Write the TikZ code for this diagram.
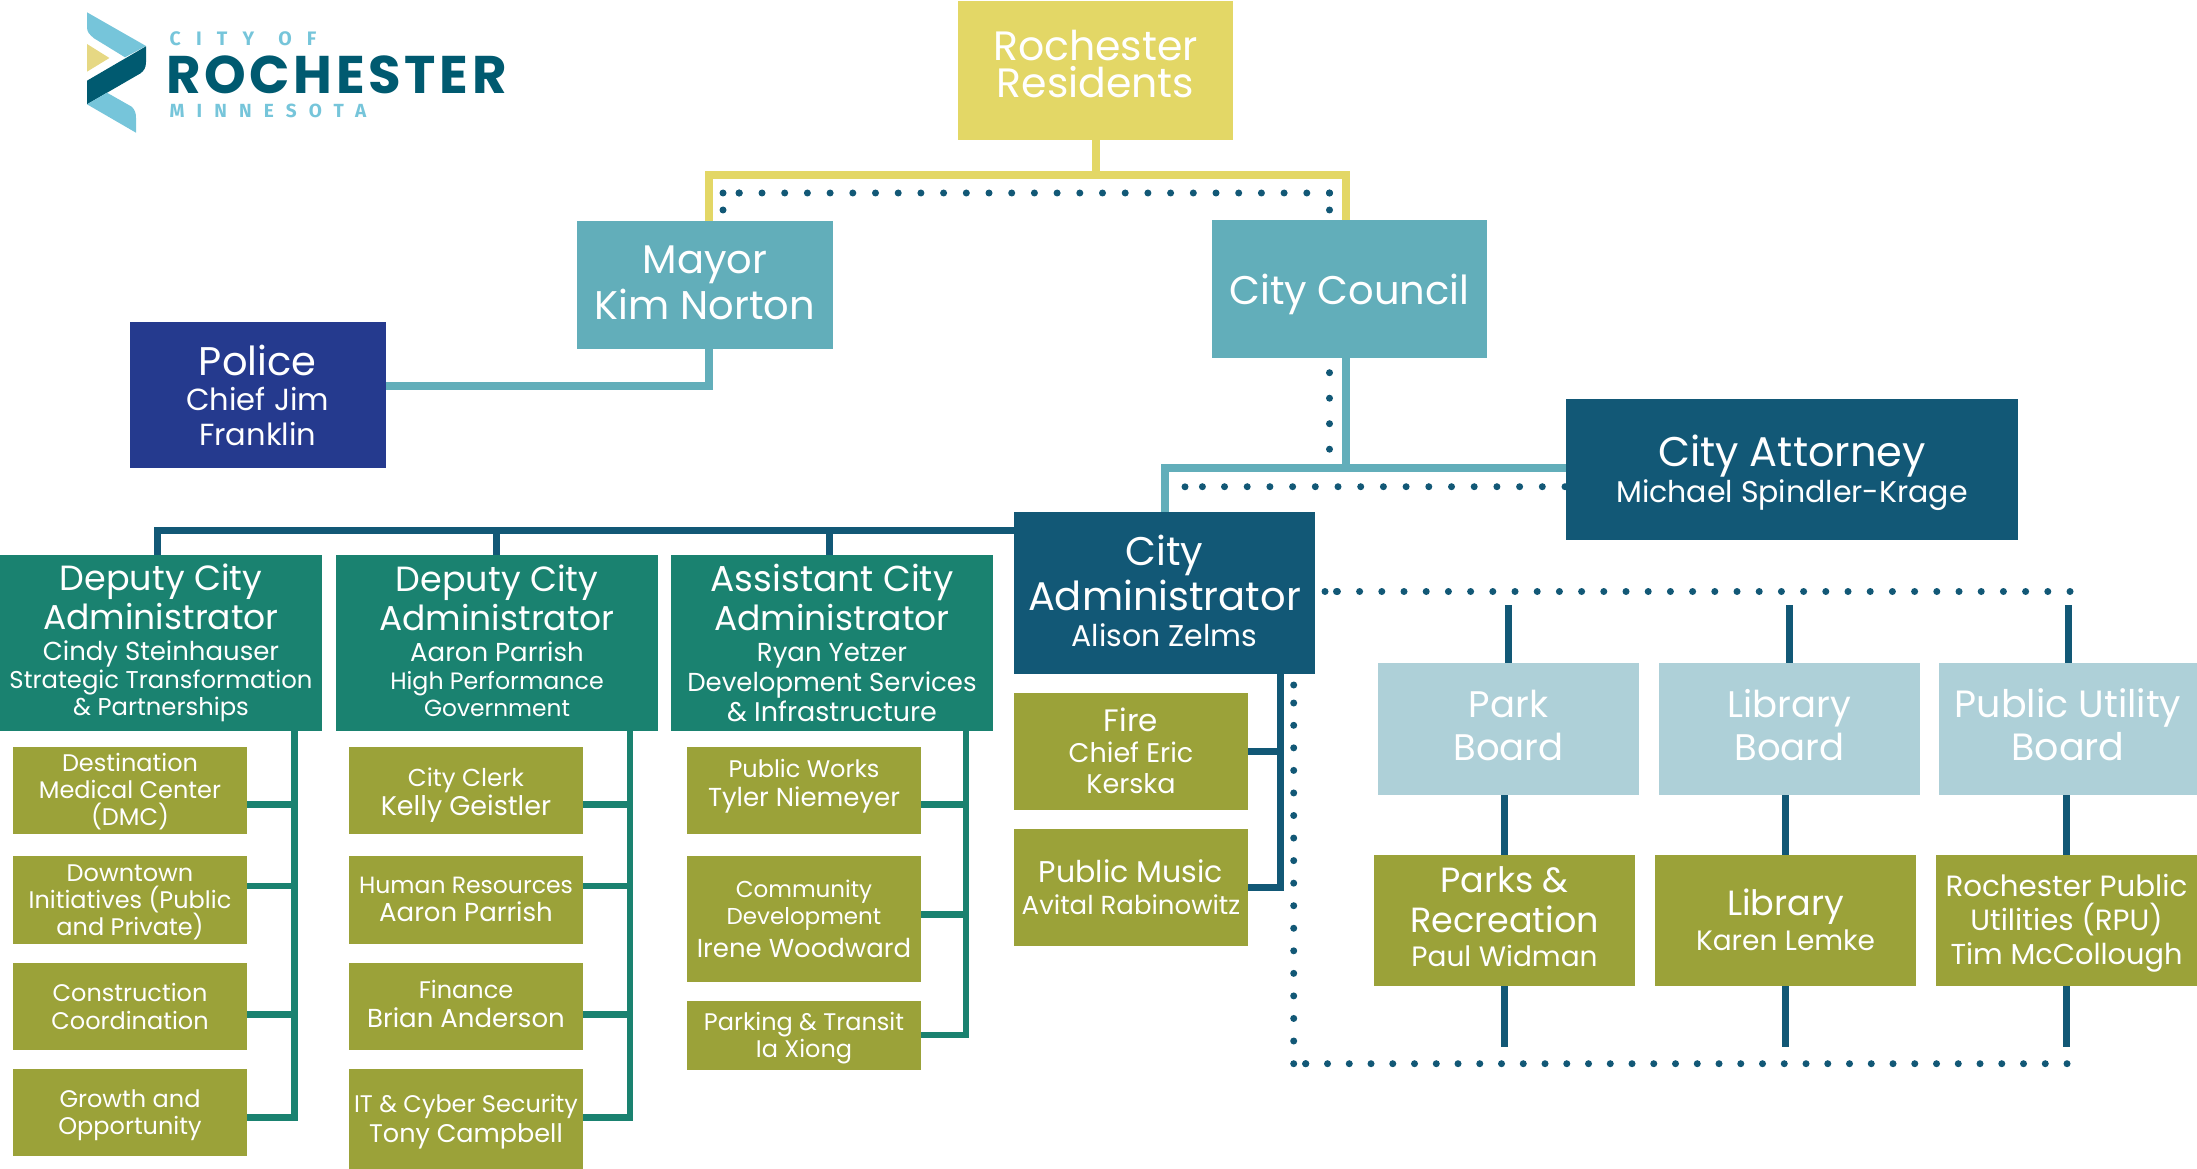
\documentclass[tikz,border=0pt]{standalone}
\usepackage{fontspec}
\setmainfont{Poppins}
\newfontfamily\logofont{Fira Sans}[BoldFont={Fira Sans Bold}]
\usepackage{tikz}
\usetikzlibrary{calc,backgrounds}
\newcommand\sz[2]{\fontsize{#1}{#2}\selectfont\lineskiplimit=-200pt\spaceskip=\fontdimen2\font\xspaceskip=\fontdimen2\font\relax}
\newcommand\nudge[1]{\vskip#1pt\vskip#1pt\vskip0pt\relax}
\definecolor{cyellow}{HTML}{E3D766}
\definecolor{cteal}{HTML}{62AEBA}
\definecolor{cdark}{HTML}{125876}
\definecolor{cnavy}{HTML}{253A8E}
\definecolor{cgreen}{HTML}{1A8270}
\definecolor{colive}{HTML}{9BA239}
\definecolor{cboard}{HTML}{AED0D8}
\definecolor{clogoa}{HTML}{76C5DA}
\definecolor{clogob}{HTML}{005A70}
\definecolor{clogoc}{HTML}{E6D883}
\tikzset{
  orgbox/.style 2 args={inner sep=0pt, outer sep=0pt, text=white, align=center, text width=#1, minimum height=#2},
  residentbox/.style 2 args={orgbox={#1}{#2}, fill=cyellow},
  tealbox/.style 2 args={orgbox={#1}{#2}, fill=cteal},
  darkbox/.style 2 args={orgbox={#1}{#2}, fill=cdark},
  policebox/.style 2 args={orgbox={#1}{#2}, fill=cnavy},
  greenbox/.style={orgbox={322}{176}, fill=cgreen},
  olivebox/.style={orgbox={234}{#1}, fill=colive},
  paleboard/.style={orgbox={#1}{132}, fill=cboard},
  boardunit/.style={orgbox={261}{131}, fill=colive},
  yellowline/.style={draw=cyellow, line width=8pt},
  tealline/.style={draw=cteal, line width=8pt},
  darkline/.style={draw=cdark, line width=7pt},
  greenline/.style={draw=cgreen, line width=6.5pt},
  dotline/.style={draw=cdark, line width=7pt, line cap=round, dash pattern=on 0pt off #1},
  logotext/.style={inner sep=0pt, outer sep=0pt, anchor=base west, font=\logofont\bfseries},
}
\begin{document}
\begin{tikzpicture}[x=1pt, y=-1pt]
    \useasboundingbox (0,0) rectangle (2197,1169);
    % logo
    \fill[clogoa] (87,12.3) -- (146,46) -- (125,57.3) -- (94,38.3) .. controls (89,34) and (87,32) .. (87,27) -- cycle;
    \fill[clogoc] (87,44) -- (109.4,58) -- (87,71.7) -- cycle;
    \fill[clogob] (146,46.3) -- (146,62) .. controls (146,68) and (144,70.5) .. (140.6,73.3) -- (87,104.3) -- (87,80.7) -- cycle;
    \fill[clogoa] (107,92.7) -- (131.7,106.7) .. controls (135,110) and (136,113) .. (136,118) -- (136,132.7) -- (87,104.3) -- cycle;
    \node[logotext, text=clogoa] (cityof) at (169.6,45.7) {\sz{19.5}{19}\addfontfeature{LetterSpace=78}CITY\hspace{24pt}OF};
    \node[logotext, text=clogob] (rochester) at (166,94) {\sz{53}{53}\rmfamily\bfseries\addfontfeature{LetterSpace=7}ROCHESTER};
    \node[logotext, text=clogoa] (minnesota) at (169.6,117.3) {\sz{19}{19}\addfontfeature{LetterSpace=64}MINNESOTA};
    % top of the chart
    \node[residentbox={275}{138.5}] (residents) at (1095.5,70.75) {\sz{41}{37}Rochester\par Residents\par\nudge{7}};
    \node[tealbox={256}{128}] (mayor) at (705,285) {\sz{40}{46}Mayor\par Kim Norton\par\nudge{2.5}};
    \node[tealbox={275}{138}] (council) at (1349.5,289) {\sz{40}{46}City Council\par\nudge{-5.5}};
    \node[policebox={255.5}{146}] (police) at (257.75,395) {\sz{40}{38}Police\par\sz{30.5}{35}Chief Jim\par Franklin\par};
    \node[darkbox={452}{141}] (attorney) at (1792,469.5) {\sz{41.5}{38}City Attorney\par\sz{30}{36}Michael Spindler-Krage\par\nudge{-3.5}};
    \node[darkbox={301}{162}] (admin) at (1164.5,593) {\sz{40}{45}City\par Administrator\par\sz{30}{36}Alison Zelms\par\nudge{2}};
    % deputies
    \node[greenbox] (deputya) at (161,643) {\sz{35}{39}Deputy City\par\sz{34.5}{39}Administrator\par\sz{26}{31}Cindy Steinhauser\par\sz{24.3}{28}Strategic Transformation\par\sz{24.3}{27}\& Partnerships\par};
    \node[greenbox] (deputyb) at (497,643) {\sz{35}{39}Deputy City\par\sz{34.5}{39}Administrator\par\sz{26}{31}Aaron Parrish\par\sz{23.7}{28}High Performance\par\sz{23.3}{27}Government\par\nudge{2}};
    \node[greenbox] (assistant) at (832,643) {\sz{36}{39}Assistant City\par\sz{34.5}{39}Administrator\par\sz{26}{31}Ryan Yetzer\par\sz{26}{30}Development Services\par\sz{27}{30}\& Infrastructure\par};
    % first column
    \node[olivebox=87] (dmc) at (130,790) {\sz{24}{27}Destination\par Medical Center\par (DMC)\par\nudge{-1.5}};
    \node[olivebox=88] (downtown) at (130,899.6) {\sz{24}{27}Downtown\par Initiatives (Public\par and Private)\par\nudge{-3}};
    \node[olivebox=87] (construction) at (130,1006.4) {\sz{24}{28}Construction\par Coordination\par};
    \node[olivebox=87] (growth) at (130,1112.4) {\sz{24}{27}Growth and\par Opportunity\par\nudge{-3}};
    % second column
    \node[olivebox=87] (clerk) at (466,790) {\sz{24.5}{29}City Clerk\par\sz{27}{29}Kelly Geistler\par\nudge{-5.5}};
    \node[olivebox=88] (hr) at (466,899.6) {\sz{23.5}{28}Human Resources\par\sz{26}{28}Aaron Parrish\par};
    \node[olivebox=87] (finance) at (466,1006.4) {\sz{24}{29}Finance\par\sz{26}{29}Brian Anderson\par\nudge{2.5}};
    \node[olivebox=100] (cyber) at (466,1119) {\sz{24}{30}IT \& Cyber Security\par\sz{25.5}{30}Tony Campbell\par\nudge{-3}};
    % third column
    \node[olivebox=87] (works) at (804,790) {\sz{24}{29}Public Works\par\sz{26}{29}Tyler Niemeyer\par\nudge{3.5}};
    \node[olivebox=126] (community) at (804,918.6) {\sz{23}{27}Community\par Development\par\sz{26}{33}Irene Woodward\par};
    \node[olivebox=69] (parking) at (804,1035.5) {\sz{24}{27}Parking \& Transit\par Ia Xiong\par\nudge{-3}};
    % under the administrator
    \node[olivebox=117] (fire) at (1131,751) {\sz{31}{38}Fire\par\sz{27}{31}Chief Eric\par Kerska\par};
    \node[olivebox=117] (music) at (1131,887) {\sz{30}{32}Public Music\par\sz{26}{32}Avital Rabinowitz\par};
    % boards
    \node[paleboard=261] (park) at (1508.5,729) {\sz{37}{43}Park\par Board\par\nudge{4}};
    \node[paleboard=261] (libboard) at (1789.5,729) {\sz{37}{43}Library\par Board\par\nudge{4}};
    \node[paleboard=258] (utility) at (2068,729) {\sz{38}{43}Public Utility\par Board\par\nudge{4}};
    \node[boardunit] (parks) at (1504.5,920) {\sz{35}{40}Parks \&\par Recreation\par\sz{28}{34}Paul Widman\par\nudge{3.5}};
    \node[boardunit] (library) at (1785.5,920) {\sz{35}{40}Library\par\sz{28}{35}Karen Lemke\par};
    \node[boardunit] (rpu) at (2066.5,920) {\sz{29.3}{34}Rochester Public\par Utilities (RPU)\par\sz{28.8}{34}Tim McCollough\par\nudge{-3}};
    % free ends and turning points
    \coordinate (yellowjoin) at (1095.5,175.5);
    \coordinate (admindot) at (1329.5,193);
    \coordinate (mayordot) at (739,193);
    \coordinate (mayorcorner) at (723,193);
    \coordinate (deputydown) at (294.5,731);
    \coordinate (deputybdown) at (630,731);
    \coordinate (assistdown) at (966,731);
    \coordinate (admindown) at (1280,674);
    \begin{scope}[on background layer]
        \draw[yellowline] (residents.south) -- (yellowjoin);
        \draw[yellowline] ([xshift=3.5]mayor.north) |- (yellowjoin) -| ([xshift=-3.5]council.north);
        \draw[tealline] ([xshift=3.5]mayor.south) |- ([yshift=9]police.east);
        \draw[tealline] ([xshift=-3.5]council.south) -- ([xshift=-3.5,yshift=-110]council.south);
        \draw[tealline] ([yshift=1.7]attorney.west) -| (admin.north);
        \draw[darkline] ([yshift=63]admin.west) -| ([xshift=-3.7]deputya.north);
        \draw[darkline] ([xshift=-.4]deputyb.north) -- ([xshift=-.4,yshift=25]deputyb.north);
        \draw[darkline] ([xshift=-3]assistant.north) -- ([xshift=-3,yshift=25]assistant.north);
        \foreach \n/\s in {dmc/-14.5, downtown/13.6, construction/-8.3}
            \draw[greenline] ([yshift=\s]\n.east) -- ([yshift=\s]\n.east -| deputydown);
        \draw[greenline] (deputydown) |- ([yshift=-5.1]growth.east);
        \foreach \n/\s in {clerk/-14.5, hr/13.6, finance/-8.3}
            \draw[greenline] ([yshift=\s]\n.east) -- ([yshift=\s]\n.east -| deputybdown);
        \draw[greenline] (deputybdown) |- ([yshift=1.5]cyber.east);
        \foreach \n/\s in {works/-14.5, community/4.3}
            \draw[greenline] ([yshift=\s]\n.east) -- ([yshift=\s]\n.east -| assistdown);
        \draw[greenline] (assistdown) |- ([yshift=.7]parking.east);
        \draw[darkline] (fire.east) -- (fire.east -| admindown);
        \draw[darkline] (admindown) |- ([yshift=-.6]music.east);
        % boards hang between the two dotted rows
        \foreach \a/\b in {park/parks, libboard/library, utility/rpu} {
            \draw[darkline] (\a.north) -- ([yshift=58]\a.north);
            \draw[darkline] (\b.north) -- (\b.north |- \a.south);
            \draw[darkline] (\b.south) -- ([yshift=-61.5]\b.south);
        }
        % dotted rows
        \draw[dotline=17pt] (1329.5,210) -- (admindot);
        \draw[dotline=22.7pt] (admindot) -- (mayordot);
        \draw[dotline=16pt] (mayordot) -- (mayorcorner);
        \draw[dotline=17pt] (mayorcorner) -- (723,210);
        \draw[dotline=25.5pt] (1329.5,372.7) -- (1329.5,449.3);
        \draw[dotline=22.7pt] (1565,486.7) -- (1202.4,486.7);
        \draw[dotline=17.5pt] (1202.4,486.7) -- (1185,486.7) -- (1185,504);
        \draw[dotline=22.2pt] (2070,591.5) -- (1336.5,591.5);
        \draw[dotline=11.5pt] (1336.5,591.5) -- (1325,591.5);
        \draw[dotline=22.55pt] (1293.7,1041) -- (1293.7,703);
        \draw[dotline=18pt] (1293.7,703) -- (1293.7,685);
        \draw[dotline=21.75pt] (2067,1063.7) -- (1305.6,1063.7);
        \draw[dotline=11.9pt] (1305.6,1063.7) -- (1293.7,1063.7);
    \end{scope}
\end{tikzpicture}
\end{document}
